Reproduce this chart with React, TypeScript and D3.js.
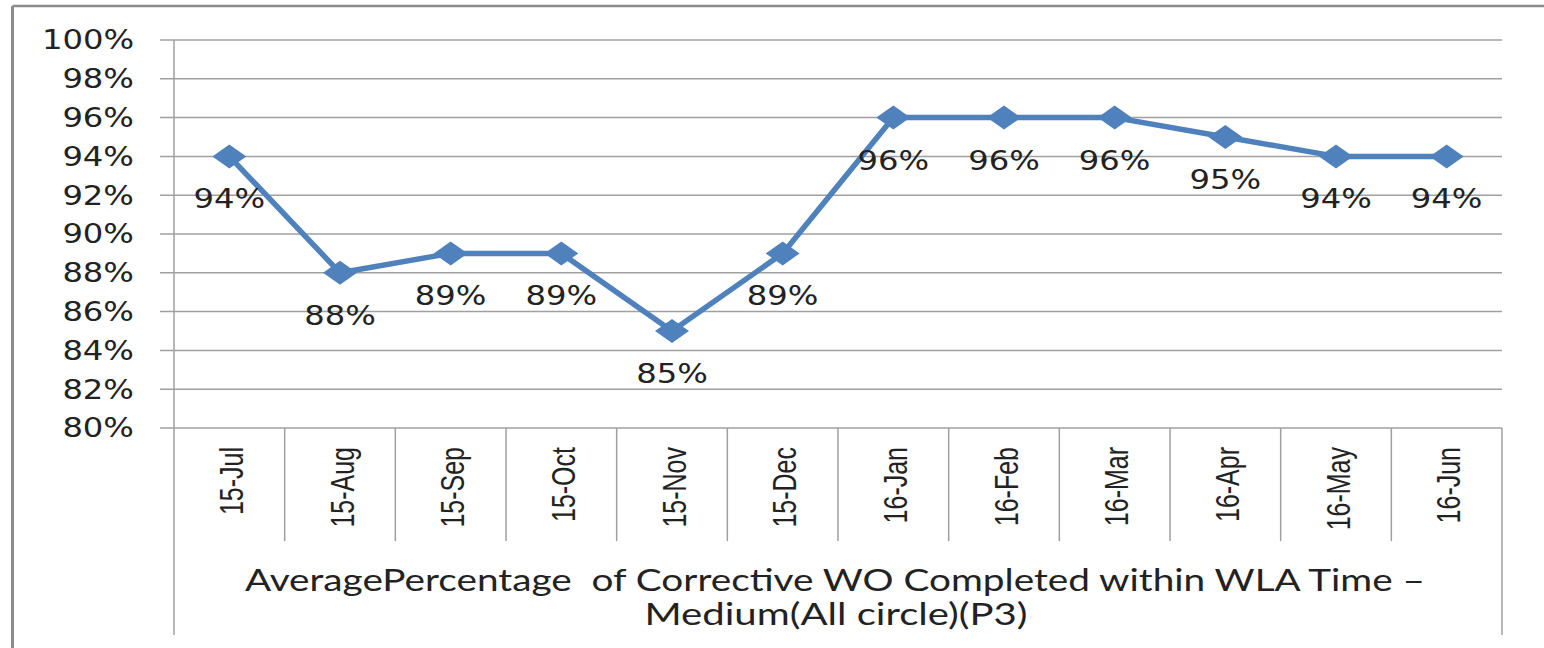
import React from "react";
import * as d3 from "d3";

const categories = ["15-Jul","15-Aug","15-Sep","15-Oct","15-Nov","15-Dec","16-Jan","16-Feb","16-Mar","16-Apr","16-May","16-Jun"];
const values = [0.94,0.88,0.89,0.89,0.85,0.89,0.96,0.96,0.96,0.95,0.94,0.94];
const yTicks = [0.80,0.82,0.84,0.86,0.88,0.90,0.92,0.94,0.96,0.98,1.00];
const titleLines = ["AveragePercentage  of Corrective WO Completed within WLA Time \u2013", "Medium(All circle)(P3)"];

const W = 1544, H = 648;
const left = 174, right = 1502, top = 40, bottom = 428;
const gridColor = "#a0a0a0";
const lineColor = "#4f81bd";
const textColor = "#222";
const numFont = "'DejaVu Sans', Verdana, sans-serif";

export default function App() {
  const x = d3.scaleBand<string>().domain(categories).range([left, right]).padding(0);
  const y = d3.scaleLinear().domain([0.8, 1.0]).range([bottom, top]);
  const fmt = d3.format(".0%");
  const cx = (c: string) => (x(c) as number) + x.bandwidth() / 2;
  const line = d3.line<number>().x((_, i) => cx(categories[i])).y(d => y(d));
  const diamond = "M0,-12L17,0L0,12L-17,0Z";
  const boundaries = d3.range(1, categories.length).map(i => left + i * x.bandwidth());

  return (
    <svg width={W} height={H} style={{ position: "absolute", left: 0, top: 0, background: "#fff" }}>
      {/* outer frame */}
      <line x1={12.5} y1={6} x2={W} y2={6} stroke="#8c8c8c" strokeWidth={2.5} />
      <line x1={12.5} y1={6} x2={12.5} y2={H} stroke="#8c8c8c" strokeWidth={3} />

      {/* gridlines */}
      {yTicks.map(t => (
        <line key={t} x1={160} x2={right} y1={y(t)} y2={y(t)} stroke={gridColor} strokeWidth={1.5} />
      ))}
      {/* axis lines */}
      <line x1={left} x2={left} y1={top} y2={635} stroke={gridColor} strokeWidth={1.5} />
      <line x1={right} x2={right} y1={bottom} y2={635} stroke={gridColor} strokeWidth={1.5} />
      {boundaries.map((b, i) => (
        <line key={i} x1={b} x2={b} y1={bottom} y2={541} stroke={gridColor} strokeWidth={1.5} />
      ))}

      {/* y tick labels */}
      {yTicks.map(t => (
        <text key={t} transform={`translate(134,${y(t)}) scale(1.24,1)`} textAnchor="end" dy="0.36em"
          fontFamily={numFont} fontSize={26} fill={textColor}>{fmt(t)}</text>
      ))}

      {/* category labels */}
      {categories.map(c => (
        <text key={c} transform={`translate(${cx(c) + 2},447) rotate(-90) scale(1,1.3)`} textAnchor="end" dy="0.36em"
          fontFamily="'Liberation Sans', Arial, sans-serif" fontSize={25} fill={textColor}>{c}</text>
      ))}

      {/* series */}
      <path d={line(values) as string} fill="none" stroke={lineColor} strokeWidth={5.5} strokeLinejoin="round" />
      {values.map((v, i) => (
        <path key={i} d={diamond} transform={`translate(${cx(categories[i])},${y(v)})`} fill={lineColor} />
      ))}

      {/* data labels */}
      {values.map((v, i) => (
        <text key={i} transform={`translate(${cx(categories[i])},${y(v) + 52}) scale(1.24,1)`} textAnchor="middle"
          fontFamily={numFont} fontSize={26} fill={textColor}>{fmt(v)}</text>
      ))}

      {/* axis title */}
      <text x={835} y={591} textAnchor="middle" fontFamily="Lato, 'Open Sans', sans-serif" fontSize={30}
        fill={textColor} textLength={1180} lengthAdjust="spacingAndGlyphs" style={{ whiteSpace: "pre" }}>{titleLines[0]}</text>
      <text x={836} y={625} textAnchor="middle" fontFamily="Lato, 'Open Sans', sans-serif" fontSize={30}
        fill={textColor} textLength={383} lengthAdjust="spacingAndGlyphs">{titleLines[1]}</text>
    </svg>
  );
}
